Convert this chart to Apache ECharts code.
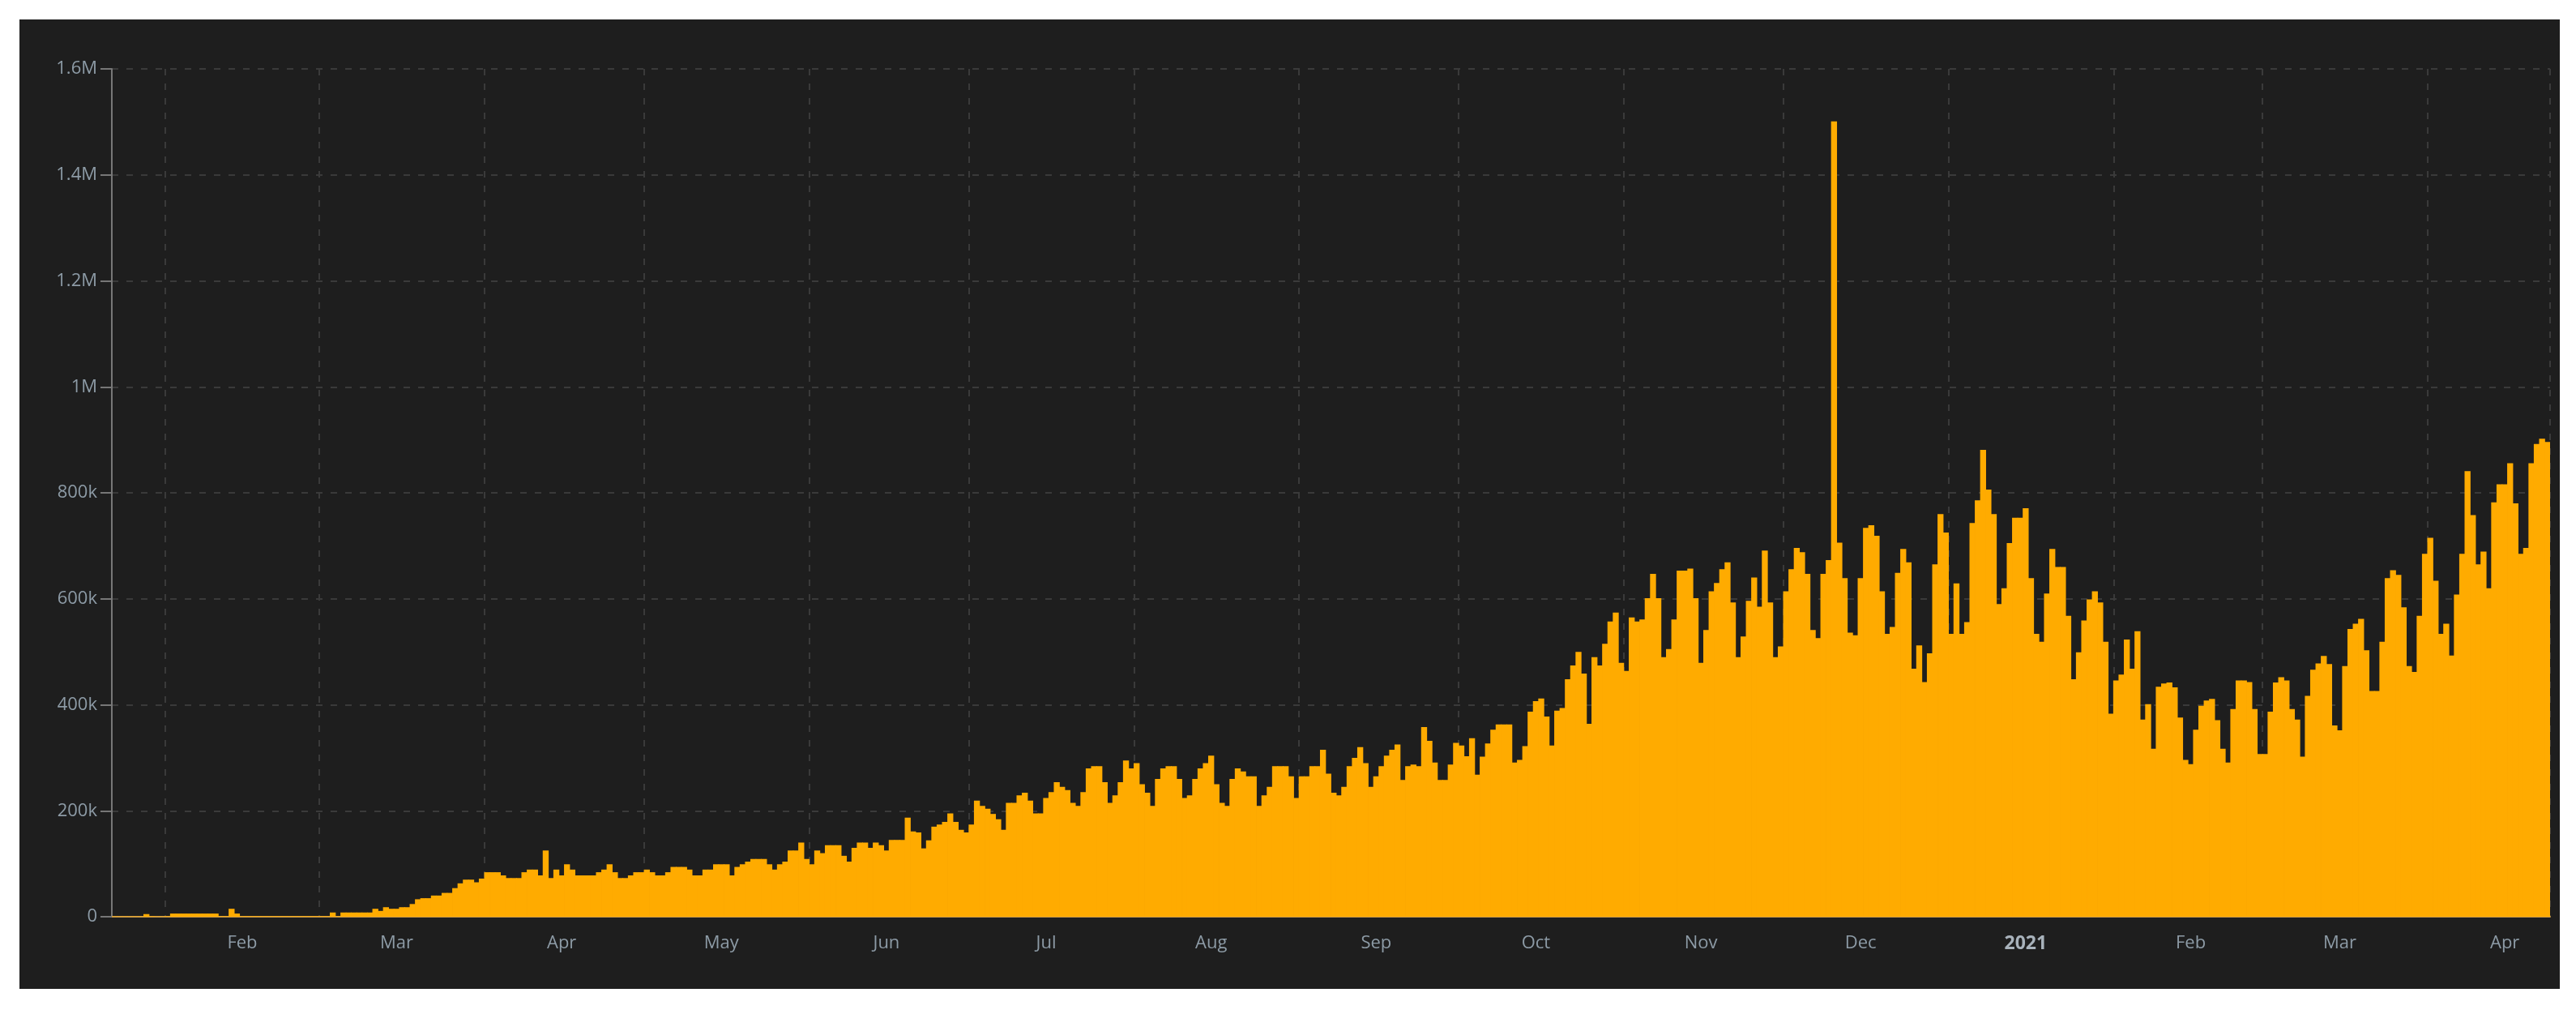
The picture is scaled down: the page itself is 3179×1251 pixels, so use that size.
<!DOCTYPE html>
<html>
<head>
<meta charset="utf-8">
<script src="https://cdn.jsdelivr.net/npm/echarts@6/dist/echarts.min.js"></script>
<style>
  html, body { margin: 0; padding: 0; background: #ffffff; }
  #chart { position: absolute; left: 24px; top: 24px; width: 3135px; height: 1196px; background: #1e1e1e; }
</style>
</head>
<body>
<div id="chart"></div>
<script>
// daily values in thousands, Jan 22 2020 .. Apr 23 2021
const START_DATE = [2020, 0, 22];
const jan2020 = [0.5, 0.5, 0.5, 0.5, 0.5, 0.5, 5, 1, 0.5, 0.5];
const feb2020 = [1, 6, 6, 6, 6, 6, 6, 6, 6, 6, 1, 1, 15, 6, 1, 1, 1, 1, 1, 1, 1, 1, 1, 1, 1, 1, 1, 1, 1];
const mar2020 = [1, 1, 8, 1, 8, 8, 8, 8, 8, 8, 15, 11, 18, 15, 15, 18, 18, 24, 33, 35, 35, 40, 40, 45, 45, 54, 63, 70, 70, 65, 72];
const apr2020 = [84, 84, 84, 78, 73, 73, 73, 84, 89, 89, 78, 125, 73, 89, 78, 99, 89, 78, 78, 78, 78, 84, 89, 99, 84, 73, 73, 78, 84, 84];
const may2020 = [89, 84, 78, 78, 84, 94, 94, 94, 89, 78, 78, 89, 89, 99, 99, 99, 78, 94, 99, 104, 109, 109, 109, 99, 89, 99, 104, 125, 125, 140, 109];
const jun2020 = [99, 125, 120, 135, 135, 135, 115, 104, 130, 140, 140, 130, 140, 135, 125, 145, 145, 145, 187, 161, 159, 129, 144, 170, 174, 179, 195, 179, 164, 159];
const jul2020 = [174, 219, 209, 204, 194, 184, 164, 215, 215, 229, 234, 219, 195, 195, 224, 235, 254, 245, 239, 215, 209, 235, 280, 284, 284, 254, 215, 229, 254, 295, 280];
const aug2020 = [290, 250, 234, 209, 260, 280, 284, 284, 260, 224, 229, 260, 280, 290, 304, 250, 215, 209, 260, 280, 274, 265, 265, 209, 229, 245, 284, 284, 284, 265, 224];
const sep2020 = [265, 265, 284, 284, 315, 270, 234, 229, 245, 284, 300, 320, 290, 245, 265, 284, 304, 315, 325, 258, 284, 287, 284, 358, 332, 291, 258, 258, 287, 328];
const oct2020 = [323, 303, 337, 268, 302, 327, 353, 363, 363, 363, 291, 296, 322, 387, 407, 412, 378, 323, 389, 394, 448, 474, 500, 459, 364, 490, 474, 515, 557, 574, 479];
const nov2020 = [464, 565, 557, 561, 601, 647, 601, 490, 505, 561, 653, 653, 657, 601, 479, 541, 614, 630, 656, 669, 593, 490, 529, 596, 640, 585, 691, 593, 490, 510];
const dec2020 = [614, 656, 696, 688, 647, 541, 526, 647, 673, 1501, 706, 639, 536, 531, 639, 734, 739, 719, 614, 534, 547, 649, 694, 669, 468, 512, 443, 497, 665, 760, 725];
const jan2021 = [534, 629, 534, 556, 743, 786, 881, 806, 760, 590, 620, 705, 753, 753, 771, 639, 534, 519, 610, 694, 660, 660, 568, 448, 499, 559, 599, 614, 593, 519, 383];
const feb2021 = [446, 457, 523, 468, 539, 372, 401, 317, 434, 440, 442, 433, 376, 296, 288, 353, 398, 408, 411, 371, 317, 291, 392, 446, 446, 443, 392, 307];
const mar2021 = [307, 387, 442, 452, 446, 392, 372, 302, 417, 466, 478, 492, 477, 361, 352, 473, 543, 553, 562, 503, 426, 426, 519, 639, 654, 645, 584, 473, 462, 568, 685];
const apr2021 = [715, 634, 534, 553, 493, 608, 685, 841, 758, 665, 689, 620, 782, 816, 816, 856, 780, 685, 696, 856, 892, 902, 896];

const monthNames = ['Jan', 'Feb', 'Mar', 'Apr', 'May', 'Jun', 'Jul', 'Aug', 'Sep', 'Oct', 'Nov', 'Dec'];
const yTicks = [0, 200000, 400000, 600000, 800000, 1000000, 1200000, 1400000, 1600000];
const yTickLabels = ['0', '200k', '400k', '600k', '800k', '1M', '1.2M', '1.4M', '1.6M'];

const values = [].concat(jan2020, feb2020, mar2020, apr2020, may2020, jun2020, jul2020, aug2020,
    sep2020, oct2020, nov2020, dec2020, jan2021, feb2021, mar2021, apr2021).map(v => v * 1000);

const dates = values.map((v, i) => new Date(START_DATE[0], START_DATE[1], START_DATE[2] + i));
const categories = dates.map(d => d.getFullYear() + '-' + (d.getMonth() + 1) + '-' + d.getDate());

const isMonthStart = i => dates[i].getDate() === 1;
const isLabelDay = i => dates[i].getDate() === 15;

const chart = echarts.init(document.getElementById('chart'));
chart.setOption({
    backgroundColor: '#1e1e1e',
    animation: false,
    grid: { left: 114, right: 12, top: 61, bottom: 89 },
    xAxis: {
        type: 'category',
        data: categories,
        boundaryGap: true,
        axisLine: { lineStyle: { color: '#c89a4a', width: 2 } },
        axisTick: { interval: i => isMonthStart(i), length: 14, lineStyle: { color: '#888', width: 2 } },
        splitLine: { show: true, interval: i => isMonthStart(i), lineStyle: { color: '#3a3a3a', type: [8, 10], width: 2 } },
        axisLabel: {
            interval: i => isLabelDay(i),
            margin: 22,
            color: '#8d9ba6',
            fontFamily: 'Open Sans',
            fontSize: 22,
            formatter: (val, i) => {
                const d = dates[i];
                if (d.getMonth() === 0) return '{b|' + d.getFullYear() + '}';
                return monthNames[d.getMonth()];
            },
            rich: { b: { fontWeight: 'bold', color: '#a8b2bb', fontFamily: 'Open Sans', fontSize: 23 } }
        }
    },
    yAxis: {
        type: 'value',
        min: 0,
        max: 1600000,
        interval: 200000,
        axisLine: { show: true, lineStyle: { color: '#777', width: 2 } },
        axisTick: { show: true, length: 14, lineStyle: { color: '#777', width: 2 } },
        splitLine: { lineStyle: { color: '#3a3a3a', type: [8, 10], width: 2 } },
        axisLabel: {
            margin: 18,
            color: '#8d9ba6',
            fontFamily: 'Open Sans',
            fontSize: 22,
            formatter: v => yTickLabels[yTicks.indexOf(v)]
        }
    },
    series: [{
        type: 'bar',
        data: values,
        barWidth: '112%',
        barGap: '-100%',
        itemStyle: { color: '#ffab00' }
    }]
});
</script>
</body>
</html>
